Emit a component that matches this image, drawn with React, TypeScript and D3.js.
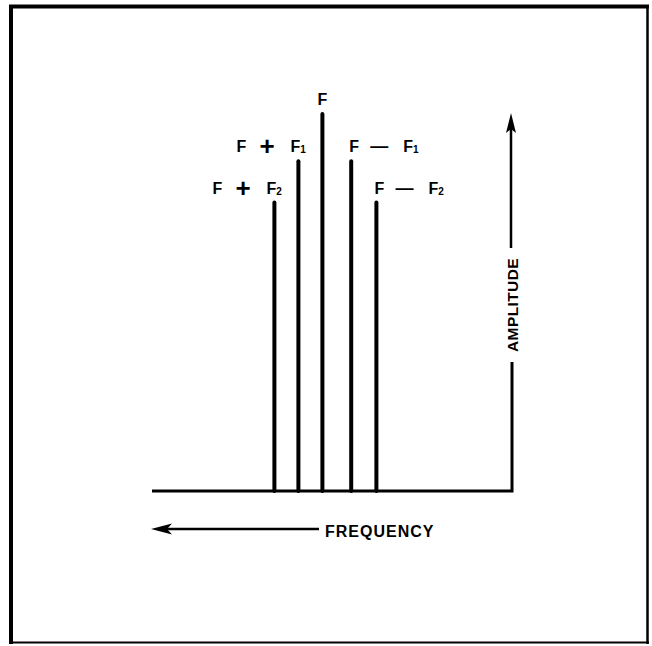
import React from "react";
import * as d3 from "d3";

// Spectral lines: left to right on the frequency axis
const lineNames = ["F + F2", "F + F1", "F", "F - F1", "F - F2"];
const linePositions = [-2, -1, 0, 1.2, 2.25]; // relative frequency offset
const lineAmplitudes = [76.5, 87.5, 100, 87.5, 76.5];
const labelParts: { base: string; op: string; sub: string; side: string }[] = [
  { base: "F", op: "+", sub: "2", side: "left" },
  { base: "F", op: "+", sub: "1", side: "left" },
  { base: "F", op: "", sub: "", side: "center" },
  { base: "F", op: "—", sub: "1", side: "right" },
  { base: "F", op: "—", sub: "2", side: "right" },
];
const axisTitleX = "FREQUENCY";
const axisTitleY = "AMPLITUDE";

const W = 652;
const H = 646;
const FONT = "'Liberation Sans', Arial, Helvetica, sans-serif";

export default function App() {
  const x = d3.scaleLinear().domain([-7.1, 7.9]).range([152, 512]);
  const y = d3.scaleLinear().domain([0, 100]).range([491, 114]);
  const line = d3.line<[number, number]>();

  const x0 = x(-7.1);
  const x1 = x(7.9);
  const yBase = y(0);
  const yTop = y(100) - 1;

  const labelWidth = 72;

  return (
    <svg
      width={W}
      height={H}
      viewBox={`0 0 ${W} ${H}`}
      style={{ position: "absolute", left: 0, top: 0, background: "#fff" }}
    >
      <rect x={0} y={0} width={W} height={H} fill="#fff" />
      {/* frame */}
      <g stroke="#000" fill="none">
        <path d={line([[9, 6.5], [649, 6.5]]) || ""} strokeWidth={4} />
        <path d={line([[11, 5], [11, 644]]) || ""} strokeWidth={4} />
        <path d={line([[647.5, 5], [647.5, 644]]) || ""} strokeWidth={2.5} />
        <path d={line([[9, 642.5], [649, 642.5]]) || ""} strokeWidth={2} />
      </g>

      {/* spectral lines */}
      {linePositions.map((p, i) => (
        <path
          key={lineNames[i]}
          d={line([[x(p), yBase], [x(p), y(lineAmplitudes[i])]]) || ""}
          stroke="#000"
          strokeWidth={4}
          strokeLinecap="round"
          fill="none"
        />
      ))}

      {/* baseline and amplitude axis */}
      <path
        d={line([[x0, yBase], [x1, yBase], [x1, 362]]) || ""}
        stroke="#000"
        strokeWidth={3}
        fill="none"
      />
      <path d={line([[x1 - 1, 248], [x1 - 1, yTop + 12]]) || ""} stroke="#000" strokeWidth={2.5} fill="none" />
      <path
        d={`M${x1 - 1},${yTop} L${x1 + 4},${yTop + 20} L${x1 - 1},${yTop + 16} L${x1 - 6},${yTop + 20} Z`}
        fill="#000"
      />
      <text
        transform={`translate(${x1 + 5.5},${(248 + 362) / 2}) rotate(-90)`}
        textAnchor="middle"
        fontFamily={FONT}
        fontWeight="bold"
        fontSize={15.5}
        letterSpacing={0.4}
        fill="#000"
      >
        {axisTitleY}
      </text>

      {/* frequency arrow */}
      <path d={line([[x0 + 12, 529], [319, 529]]) || ""} stroke="#000" strokeWidth={2.5} fill="none" />
      <path
        d={`M${x0 - 1},529 L${x0 + 20},523.5 L${x0 + 15},529 L${x0 + 20},534.5 Z`}
        fill="#000"
      />
      <text
        x={325}
        y={537}
        fontFamily={FONT}
        fontWeight="bold"
        fontSize={16}
        letterSpacing={1}
        fill="#000"
      >
        {axisTitleX}
      </text>

      {/* labels */}
      {linePositions.map((p, i) => {
        const lp = labelParts[i];
        const bx = x(p);
        const by = y(lineAmplitudes[i]) - 9;
        if (lp.side === "center") {
          return (
            <text
              key={"l" + i}
              x={bx}
              y={by}
              textAnchor="middle"
              fontFamily={FONT}
              fontWeight="bold"
              fontSize={16}
              fill="#000"
            >
              {lp.base}
            </text>
          );
        }
        const start = lp.side === "left" ? bx + 10 - labelWidth : bx - 2;
        const isPlus = lp.op === "+";
        return (
          <text key={"l" + i} y={by} fontFamily={FONT} fontWeight="bold" fontSize={16} fill="#000">
            <tspan x={start}>{lp.base}</tspan>
            <tspan
              x={start + (isPlus ? 23 : 21)}
              dy={isPlus ? 3 : 0}
              fontSize={isPlus ? 26 : 18}
              fontWeight={900}
            >
              {lp.op}
            </tspan>
            <tspan x={start + 54} dy={isPlus ? -3 : 0}>
              {lp.base}
            </tspan>
            <tspan fontSize={10} dy={1}>
              {lp.sub}
            </tspan>
          </text>
        );
      })}
    </svg>
  );
}
